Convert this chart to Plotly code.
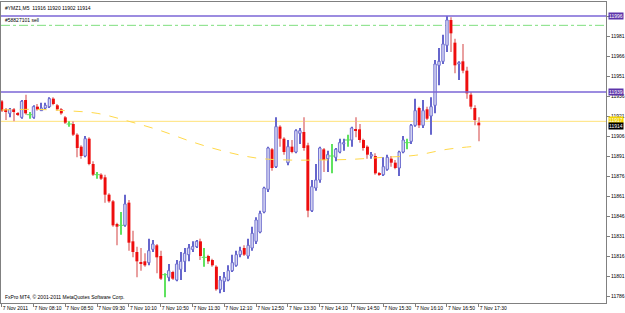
import plotly.graph_objects as go

# ---- data (M5 bars of #YMZ1, 7 Nov 2011 07:30 .. 17:30) ----
open_ = [11932,11926,11923,11926,11923,11920,11933,11922,11920,11928,
         11925,11927,11928,11934,11929,11926,11920,11915,11915,11907,
         11898,11891,11904,11885,11877,11877,11875,11862,11857,11840,
         11839,11839,11856,11827,11819,11811,11812,11811,11821,11824,
         11816,11802,11800,11804,11798,11806,11812,11817,11821,11823,
         11827,11815,11816,11813,11808,11791,11797,11798,11805,11809,
         11817,11822,11816,11822,11827,11834,11849,11866,11896,11883,
         11913,11904,11886,11898,11894,11908,11909,11899,11850,11867,
         11873,11896,11889,11891,11890,11894,11900,11903,11903,11911,
         11911,11903,11898,11891,11891,11878,11877,11881,11889,11886,
         11882,11894,11901,11902,11914,11927,11914,11926,11921,11929,
         11959,11962,11974,11993,11976,11960,11962,11955,11937,11927,
         11916]
high = [11933,11927,11927,11927,11924,11933,11937,11924,11929,11930,
        11931,11931,11935,11935,11930,11927,11921,11917,11917,11908,
        11899,11906,11905,11887,11879,11878,11877,11863,11858,11841,
        11849,11862,11858,11835,11823,11822,11818,11829,11828,11825,
        11820,11803,11810,11805,11813,11819,11822,11825,11827,11828,
        11829,11822,11817,11814,11809,11801,11804,11809,11817,11820,
        11823,11824,11829,11838,11845,11850,11868,11898,11897,11920,
        11914,11905,11903,11903,11911,11912,11920,11901,11873,11885,
        11898,11897,11895,11900,11897,11904,11904,11907,11913,11920,
        11915,11904,11899,11894,11893,11879,11890,11892,11891,11888,
        11895,11906,11904,11915,11934,11928,11933,11928,11935,11963,
        11972,11982,11996,11995,11979,11962,11975,11958,11939,11929,
        11920]
low = [11924,11918,11920,11917,11921,11919,11922,11919,11919,11925,
       11925,11926,11927,11929,11925,11922,11915,11913,11906,11890,
       11889,11890,11884,11876,11874,11873,11856,11856,11838,11824,
       11832,11838,11820,11815,11800,11805,11808,11809,11819,11803,
       11798,11785,11797,11798,11797,11798,11804,11812,11819,11822,
       11813,11808,11810,11808,11790,11788,11789,11797,11804,11808,
       11815,11816,11814,11820,11825,11833,11848,11864,11880,11882,
       11898,11892,11884,11893,11893,11900,11895,11845,11849,11865,
       11871,11879,11879,11878,11887,11893,11895,11898,11898,11905,
       11901,11895,11889,11889,11877,11876,11876,11880,11883,11881,
       11876,11893,11896,11900,11913,11912,11912,11918,11907,11923,
       11944,11960,11969,11969,11953,11948,11953,11934,11926,11914,
       11902]
close = [11925,11924,11926,11924,11922,11932,11923,11922,11928,11926,
         11927,11929,11934,11930,11926,11923,11916,11915,11907,11897,
         11891,11904,11885,11877,11877,11874,11862,11857,11839,11838,
         11839,11855,11826,11819,11812,11810,11809,11820,11825,11815,
         11799,11802,11805,11799,11810,11812,11818,11822,11823,11827,
         11816,11815,11812,11809,11791,11798,11800,11805,11811,11817,
         11820,11817,11824,11833,11843,11848,11867,11897,11882,11913,
         11904,11894,11898,11894,11910,11910,11897,11850,11868,11873,
         11897,11888,11892,11891,11896,11901,11901,11903,11912,11910,
         11903,11897,11892,11892,11878,11877,11883,11890,11886,11882,
         11894,11903,11901,11914,11925,11914,11925,11919,11928,11960,
         11962,11975,11993,11983,11959,11961,11955,11938,11928,11918,
         11914]

# moving average (yellow dashed), read every 8 bars
ma_idx = [0, 8, 16, 24, 32, 40, 48, 56, 64, 72, 80, 88, 96, 104, 112, 120]
ma_val = [11925.5, 11926, 11925, 11923, 11917, 11910, 11901.5, 11894.5,
          11889.5, 11888, 11888, 11888.5, 11890, 11891.5, 11896, 11898.5]

tick_idx = [0, 8, 16, 24, 32, 40, 48, 56, 64, 72, 80, 88, 96, 104, 112, 120]
tick_text = ["7 Nov 2011", "7 Nov 08:10", "7 Nov 08:50", "7 Nov 09:30",
             "7 Nov 10:10", "7 Nov 10:50", "7 Nov 11:30", "7 Nov 12:10",
             "7 Nov 12:50", "7 Nov 13:30", "7 Nov 14:10", "7 Nov 14:50",
             "7 Nov 15:30", "7 Nov 16:10", "7 Nov 16:50", "7 Nov 17:30"]

price_ticks = list(range(11786, 12000, 15))
hline_levels = [11996, 11939]      # purple horizontal lines
order_level = 11989                # "#58827101 sell"
order_label = "#58827101 sell"
yellow_level = 11917
bid_level = 11914
symbol = "#YMZ1,M5"

# ---- styling ----
BULL_LINE = "#6666cc"
BULL_FILL = "#dadaf4"
BEAR_BODY = "#ee0d0d"
BEAR_WICK = "#e9a0a0"
DOJI = "#5fe25f"
FONT = "Liberation Sans"
FS = 5

idx = list(range(len(open_)))
bull = [i for i in idx if close[i] > open_[i]]
bear = [i for i in idx if close[i] < open_[i]]
doji = [i for i in idx if close[i] == open_[i]]

fig = go.Figure()

fig.add_trace(go.Scatter(x=ma_idx, y=ma_val, mode="lines",
                         line=dict(color="#ffd94a", width=1, dash="dash", shape="spline"),
                         hoverinfo="skip"))

def wick(sel, color):
    fig.add_trace(go.Bar(x=sel, y=[high[i] - low[i] for i in sel],
                         base=[low[i] for i in sel], width=0.26,
                         marker=dict(color=color, line=dict(width=0)),
                         hoverinfo="skip"))

wick(bear, BEAR_WICK)
wick(bull, BULL_LINE)
wick(doji, DOJI)

fig.add_trace(go.Bar(x=bear, y=[open_[i] - close[i] for i in bear],
                     base=[close[i] for i in bear], width=0.74,
                     marker=dict(color=BEAR_BODY, line=dict(width=0)),
                     hoverinfo="skip"))
fig.add_trace(go.Bar(x=bull, y=[close[i] - open_[i] for i in bull],
                     base=[open_[i] for i in bull], width=0.62,
                     marker=dict(color=BULL_FILL, line=dict(color=BULL_LINE, width=0.9)),
                     hoverinfo="skip"))
fig.add_trace(go.Scatter(x=doji, y=[open_[i] for i in doji], mode="markers",
                         marker=dict(symbol="line-ew", size=4,
                                     line=dict(color=DOJI, width=1)),
                         hoverinfo="skip"))

shapes = []
for lv in hline_levels:
    shapes.append(dict(type="line", xref="paper", x0=0, x1=1, yref="y", y0=lv, y1=lv,
                       line=dict(color="#7b66d6", width=1.3), layer="above"))
shapes.append(dict(type="line", xref="paper", x0=0, x1=1, yref="y", y0=order_level,
                   y1=order_level, line=dict(color="#7fdf7f", width=1, dash="dashdot"),
                   layer="below"))
shapes.append(dict(type="line", xref="paper", x0=0, x1=1, yref="y", y0=yellow_level,
                   y1=yellow_level, line=dict(color="#ffe27a", width=1), layer="below"))

annotations = []
n = len(open_) - 1
annotations.append(dict(xref="paper", yref="paper", x=0.004, y=1, xanchor="left",
                        yanchor="top", yshift=-1, showarrow=False,
                        text=f"{symbol}  {open_[n]} {high[n]} {low[n]} {close[n]}",
                        font=dict(family=FONT, size=FS, color="#000000")))
annotations.append(dict(xref="paper", yref="y", x=0.004, y=order_level, xanchor="left",
                        yanchor="bottom", yshift=0, showarrow=False, text=order_label,
                        font=dict(family=FONT, size=FS, color="#000000")))
annotations.append(dict(xref="paper", yref="paper", x=0.004, y=0, xanchor="left",
                        yanchor="bottom", yshift=1, showarrow=False,
                        text="FxPro MT4, © 2001-2011 MetaQuotes Software Corp.",
                        font=dict(family=FONT, size=FS, color="#000000")))

def box(level, bg, fg, shift=0):
    annotations.append(dict(xref="paper", yref="y", x=1, y=level, xanchor="left",
                            yanchor="middle", xshift=2, yshift=shift, showarrow=False,
                            text=str(level), bgcolor=bg, borderpad=0,
                            font=dict(family=FONT, size=FS, color=fg)))

for lv in hline_levels:
    box(lv, "#5d34aa", "#ffffff")
box(yellow_level, "#f3d400", "#ffffff", 1.5)
box(bid_level, "#000000", "#ffffff", -1)

price_text = ["" if v in hline_levels else str(v) for v in price_ticks]

fig.update_layout(
    width=625, height=313, autosize=False,
    margin=dict(l=1, r=19, t=2, b=10, pad=0),
    paper_bgcolor="white", plot_bgcolor="white",
    barmode="overlay", showlegend=False, hovermode=False,
    shapes=shapes, annotations=annotations,
    xaxis=dict(range=[-0.18, 152], tickmode="array", tickvals=tick_idx, ticktext=tick_text,
               tickangle=0, ticks="outside", ticklen=3, tickcolor="#808080", tickwidth=1,
               ticklabelposition="outside right",
               tickfont=dict(family=FONT, size=FS, color="#000000"),
               showgrid=False, zeroline=False, showline=True, linecolor="#808080",
               linewidth=1, mirror=True, automargin=False, fixedrange=True),
    yaxis=dict(side="right", range=[11780.75, 12006.5], tickmode="array",
               tickvals=price_ticks, ticktext=price_text, ticks="outside", ticklen=3,
               tickcolor="#808080",
               tickfont=dict(family=FONT, size=FS, color="#000000"),
               showgrid=False, zeroline=False, showline=True, linecolor="#808080",
               linewidth=1, mirror=True, automargin=False, fixedrange=True),
)

fig.write_html("out.html")
